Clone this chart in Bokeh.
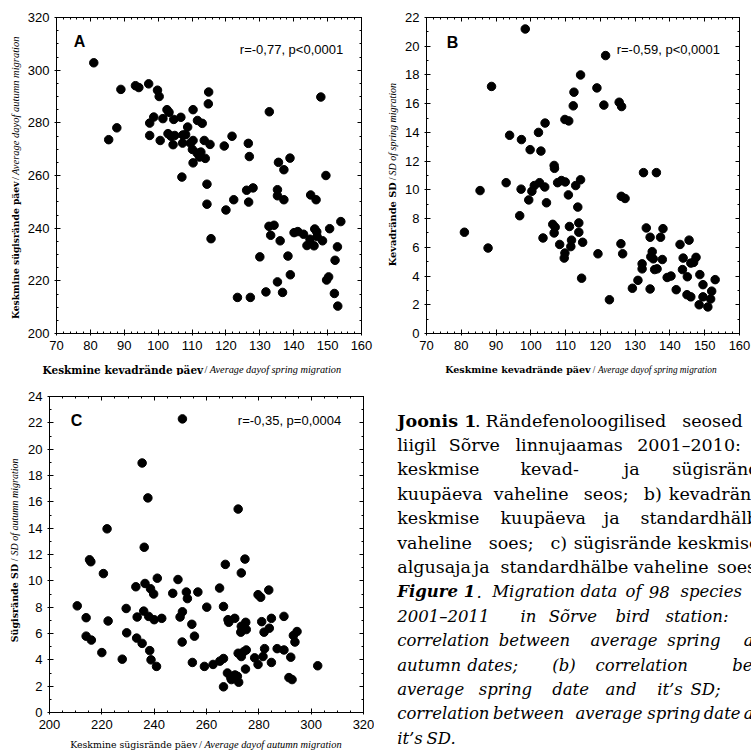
import math
from bokeh.plotting import figure
from bokeh.models import Range1d, LinearAxis, SingleIntervalTicker, Label, ColumnDataSource
from bokeh.layouts import row, column
from bokeh.embed import file_html
from bokeh.resources import INLINE
from bokeh.core.properties import value

# ---------------- data ----------------
# Panel A: average spring day vs average autumn day
spring_day_a = [81.0, 85.4, 87.8, 89.0, 93.3, 94.3, 97.2, 99.8, 100.3, 97.5, 98.7, 97.5, 100.6, 101.4,
                102.6, 103.2, 104.6, 102.9, 103.8, 104.9, 104.4, 106.7, 107.3, 108.1, 107.2, 108.7,
                110.3, 110.3, 109.5, 110.1, 110.3, 107.0, 111.6, 113.0, 113.6, 111.5, 112.6, 112.2,
                113.9, 114.9, 114.8, 115.3, 114.4, 114.4, 115.6, 119.5, 120.0, 121.8, 122.3, 123.4,
                126.6, 126.9, 126.1, 128.0, 126.7, 127.2, 130.0, 131.8, 132.8, 132.7, 133.2, 134.2,
                135.2, 135.5, 135.2, 135.2, 136.0, 136.7, 137.1, 137.1, 138.3, 138.9, 139.0, 140.1,
                141.2, 142.9, 143.9, 144.8, 145.0, 146.0, 146.2, 146.6, 146.8, 146.9, 148.0, 148.5,
                149.5, 149.7, 150.3, 150.6, 152.2, 152.0, 152.9, 153.0, 153.9]
autumn_day_a = [302.8, 273.6, 278.1, 292.7, 294.1, 293.4, 294.8, 292.4, 290.0, 279.9, 282.2, 275.2, 273.3, 281.6,
                285.0, 284.0, 281.3, 275.9, 274.9, 275.2, 271.7, 282.1, 275.4, 275.5, 272.3, 278.4,
                285.0, 273.3, 272.3, 269.9, 264.8, 259.4, 280.9, 279.8, 273.3, 268.5, 268.9, 267.0,
                266.5, 291.7, 287.2, 271.8, 256.7, 249.1, 236.0, 271.2, 246.9, 274.9, 250.8, 213.7,
                272.2, 267.2, 254.4, 255.3, 249.9, 213.7, 229.1, 215.8, 284.2, 240.7, 237.3, 241.1,
                219.6, 265.0, 254.6, 252.3, 235.2, 215.6, 262.2, 250.8, 229.4, 266.6, 222.3, 238.3,
                238.7, 237.7, 233.4, 235.8, 252.6, 233.3, 239.7, 250.8, 238.6, 236.8, 289.8, 235.2,
                260.0, 220.3, 221.5, 239.8, 227.8, 215.2, 232.9, 210.4, 242.5]

# Panel B: average spring day vs SD of spring migration
spring_day_b = [80.9, 85.4, 87.7, 88.7, 92.9, 93.9, 97.3, 98.4, 97.2, 96.8, 99.8, 99.4, 100.3, 101.0,
                102.2, 102.5, 102.9, 104.1, 104.0, 104.5, 103.5, 106.7, 106.8, 106.3, 107.0, 106.7,
                107.7, 108.8, 109.9, 108.3, 109.8, 110.9, 110.8, 109.8, 109.6, 111.1, 111.7, 111.5,
                112.2, 112.4, 112.9, 113.5, 113.8, 113.8, 114.3, 114.3, 114.9, 114.6, 119.0, 119.3,
                121.0, 121.5, 122.6, 125.4, 126.1, 126.0, 127.1, 125.9, 126.4, 129.2, 130.8, 132.0,
                132.0, 132.4, 133.2, 134.3, 134.3, 134.5, 134.9, 135.2, 135.6, 136.3, 136.1, 137.3,
                138.0, 137.8, 139.2, 140.3, 141.8, 142.9, 143.8, 143.6, 145.0, 145.5, 144.9, 146.0,
                146.0, 146.8, 147.5, 148.6, 148.4, 149.5, 149.5, 150.9, 151.7, 152.0, 153.0]
spring_sd_b = [7.05, 9.95, 5.95, 17.2, 10.5, 13.8, 13.5, 21.2, 10.05, 8.2, 12.8, 9.3, 9.9, 10.3,
               14.0, 10.5, 12.7, 14.65, 10.2, 9.1, 6.65, 11.7, 11.5, 7.6, 7.4, 7.0,
               10.5, 10.65, 10.55, 6.2, 14.9, 14.8, 9.65, 5.6, 5.25, 7.45, 6.5, 6.05,
               15.85, 16.8, 10.3, 8.8, 7.7, 7.05, 10.7, 18.0, 6.35, 3.85, 17.1, 5.55,
               15.9, 19.35, 2.35, 16.1, 15.8, 9.55, 9.4, 6.25, 5.55, 3.15, 3.7, 4.85,
               4.5, 11.2, 7.35, 6.7, 3.1, 5.35, 5.7, 5.2, 4.45, 4.5, 11.2, 6.7,
               7.3, 5.15, 3.9, 4.0, 3.05, 6.2, 5.25, 4.45, 3.95, 6.5, 2.7, 2.55,
               4.9, 4.95, 5.3, 4.1, 2.0, 3.4, 2.55, 1.85, 2.4, 2.95, 3.75]

# Panel C: average autumn day vs SD of autumn migration
autumn_day_c = [210.6, 214.0, 214.0, 215.3, 215.8, 216.0, 220.0, 220.6, 222.0, 222.4, 227.8, 229.3, 229.5,
                233.0, 233.3, 233.5, 235.4, 235.4, 236.2, 236.0, 236.5, 237.6, 237.9, 238.6, 238.3,
                238.8, 239.8, 240.0, 241.2, 240.9, 242.9, 247.1, 249.1, 249.9, 250.8, 250.8, 250.7,
                252.3, 252.7, 254.4, 254.6, 255.4, 256.7, 259.2, 260.1, 262.5, 265.0, 265.1, 266.5,
                266.5, 266.5, 267.2, 268.0, 268.2, 268.5, 269.3, 269.5, 270.8, 270.9, 271.8, 272.1,
                272.1, 272.3, 273.1, 273.3, 273.3, 273.3, 274.1, 274.7, 275.0, 275.2, 275.2, 274.9,
                278.4, 279.7, 279.7, 280.7, 281.1, 281.6, 282.0, 282.2, 283.8, 284.0, 284.8, 284.8,
                287.0, 289.6, 289.6, 291.5, 292.2, 292.7, 293.2, 293.8, 294.6, 302.5]
autumn_sd_c = [8.1, 7.2, 5.8, 11.6, 11.45, 5.5, 4.55, 10.55, 13.95, 6.95, 4.05, 7.9, 6.05,
               9.55, 5.65, 7.25, 5.25, 18.95, 12.55, 7.7, 9.8, 16.3, 7.3, 9.4, 4.7,
               4.0, 9.0, 7.05, 10.2, 3.5, 7.15, 9.05, 10.1, 7.25, 7.65, 22.3, 5.35,
               9.15, 8.65, 6.7, 3.8, 5.8, 9.15, 3.5, 8.0, 3.65, 9.45, 3.9, 4.1,
               8.05, 1.95, 11.25, 3.0, 7.05, 6.85, 2.65, 2.5, 7.15, 2.85, 2.75, 15.45,
               4.5, 2.3, 6.1, 10.6, 6.55, 4.25, 4.6, 11.65, 6.85, 6.3, 4.75, 3.3,
               4.15, 3.65, 8.95, 8.75, 6.9, 4.25, 6.1, 4.85, 9.3, 6.4, 7.15, 3.8,
               4.85, 7.3, 4.75, 2.65, 4.2, 2.5, 5.85, 5.35, 6.15, 3.55]

panel_letters = ["A", "B", "C"]
stats_texts = ["r=-0,77, p<0,0001", "r=-0,59, p<0,0001", "r=-0,35, p=0,0004"]

TICK_FONT = "Liberation Sans"
SERIF = "DejaVu Serif"
ITAL = "Liberation Serif"


def no_align(p):
    if "frame_align" in p.properties():
        p.frame_align = False


def make_panel(ox, oy, w, h, bl, br, bt, bb, xr, yr, xstep, xminor, ystep, yminor, tick_size="13px"):
    p = figure(width=w, height=h, x_range=Range1d(*xr), y_range=Range1d(*yr),
               output_backend="svg", toolbar_location=None,
               x_axis_type=None, y_axis_type=None,
               min_border_left=bl, min_border_right=br, min_border_top=bt, min_border_bottom=bb)
    no_align(p)
    p.outline_line_color = "black"
    p.outline_line_width = 1
    p.background_fill_color = "white"
    p.border_fill_color = "white"
    for loc in ("below", "left", "above", "right"):
        if loc in ("below", "above"):
            t = SingleIntervalTicker(interval=xstep, num_minor_ticks=xminor)
        else:
            t = SingleIntervalTicker(interval=ystep, num_minor_ticks=yminor)
        ax = LinearAxis(ticker=t)
        ax.axis_line_color = "black"
        ax.major_tick_line_color = "black"
        ax.minor_tick_line_color = "black"
        ax.major_tick_in = 4
        ax.minor_tick_in = 2
        ax.minor_tick_out = 0
        if loc in ("below", "left"):
            ax.major_tick_out = 2
            ax.major_label_standoff = 5
            ax.major_label_text_font = TICK_FONT
            ax.major_label_text_font_size = tick_size
            ax.major_label_text_color = "black"
        else:
            ax.major_tick_out = 0
            ax.major_label_standoff = 0
            ax.major_label_text_font_size = "0px"
            ax.major_label_text_color = None
        p.add_layout(ax, loc)
    fh = h - bt - bb
    frame = dict(left=ox + bl, bottom=oy + bt + fh)
    return p, frame


def add_label(p, frame, sx, sy, text, **kw):
    p.add_layout(Label(x=sx - frame["left"], y=frame["bottom"] - sy,
                       x_units="screen", y_units="screen", text=text, **kw))


def add_corner_texts(p, frame, letter, lxy, stat, sxy):
    add_label(p, frame, lxy[0], lxy[1], letter, text_font=TICK_FONT, text_font_style="bold",
              text_font_size="16px", text_align="center", text_baseline="middle", text_color="black")
    add_label(p, frame, sxy[0], sxy[1], stat, text_font=TICK_FONT, text_font_size="13px",
              text_align="right", text_baseline="middle", text_color="black")


def strip(x0, x1, y0, y1):
    s = figure(width=int(round(x1 - x0)), height=int(round(y1 - y0)),
               x_range=Range1d(x0, x1), y_range=Range1d(y1, y0),
               output_backend="svg", toolbar_location=None, x_axis_type=None, y_axis_type=None,
               min_border=0, min_border_left=0, min_border_right=0, min_border_top=0,
               min_border_bottom=0)
    no_align(s)
    s.outline_line_color = None
    s.background_fill_color = "white"
    s.border_fill_color = "white"
    return s


def put(s, x, y, txt, font, style, size, align, angle=0.0):
    s.text(x=[x], y=[y], text=[txt], text_font=value(font), text_font_style=value(style),
           text_font_size=value(size), text_align=value(align), text_baseline=value("middle"),
           angle=angle, text_color="black")


def x_title(s, y, first, first_style, first_size, end1, slash_x, ital_x, rest, ital_size):
    put(s, end1, y, first, SERIF, first_style, first_size, "right")
    put(s, slash_x, y, "/", ITAL, "normal", ital_size, "center")
    put(s, ital_x, y, rest, ITAL, "italic", ital_size, "left")


def y_title(s, x, first, first_size, end1, slash_y, ital_y, rest, ital_size):
    a = math.pi / 2
    put(s, x, end1, first, SERIF, "bold", first_size, "right", a)
    put(s, x, slash_y, "/", ITAL, "normal", ital_size, "center", a)
    put(s, x, ital_y, rest, ITAL, "italic", ital_size, "left", a)


MS = 8.5

# ---- Panel A (page x 0..374, y 0..375) ----
yA = strip(0, 22, 0, 355)
y_title(yA, 15, "Keskmine sügisrände päev", "9.2px", 181, 178, 174.5,
        "Average dayof autumn migration", "10.5px")
pA, fA = make_panel(22, 0, 352, 355, 34, 13, 17, 22, (70, 160), (200, 320), 10, 5, 20, 4)
pA.scatter(spring_day_a, autumn_day_a, size=MS, color="black")
add_corner_texts(pA, fA, panel_letters[0], (79, 41), stats_texts[0], (342.7, 49))
xA = strip(0, 374, 355, 375)
x_title(xA, 369.3, "Keskmine kevadrände päev", "bold", "10.5px", 202.7, 205.5, 209.3,
        "Average dayof spring migration", "10.3px")

# ---- Panel B (page x 374..751, y 0..375) ----
yB = strip(374, 400, 0, 355)
y_title(yB, 391.7, "Kevadrände SD", "9.8px", 181.7, 178.3, 175,
        "SD of spring migration", "10px")
pB, fB = make_panel(400, 0, 351, 355, 26, 12, 17, 22, (70, 160), (0, 22), 10, 5, 2, 2)
pB.scatter(spring_day_b, spring_sd_b, size=MS, color="black")
add_corner_texts(pB, fB, panel_letters[1], (452, 41.5), stats_texts[1], (719.5, 49))
xB = strip(374, 751, 355, 375)
x_title(xB, 369.3, "Keskmine kevadrände päev", "bold", "9.5px", 590, 593.5, 597.5,
        "Average dayof spring migration", "9.3px")

# ---- Panel C (page x 0..374, y 375..754) ----
yC = strip(0, 22, 375, 736)
y_title(yC, 14, "Sügisrände SD", "9.5px", 563.3, 559.3, 555,
        "SD of autumn migration", "10px")
pC, fC = make_panel(22, 375, 352, 361, 27, 11, 21, 24, (200, 320), (0, 24), 20, 4, 2, 2)
pC.scatter(autumn_day_c, autumn_sd_c, size=MS, color="black")
add_corner_texts(pC, fC, panel_letters[2], (76, 419.7), stats_texts[2], (340.7, 420))
xC = strip(0, 374, 736, 754)
x_title(xC, 744.3, "Keskmine sügisrände päev", "normal", "9.4px", 196.7, 200, 204,
        "Average dayof autumn migration", "10.4px")

# ---- Caption (page x 374..751, y 375..754) ----
caption_lines = [
    [("Joonis 1", "bold", 396.7), (".", "normal", 474.5), ("Rändefenoloogilised", "normal", 485),
     ("seosed", "normal", 681.7)],
    [("liigil", "normal", 396.7), ("Sõrve", "normal", 448.3), ("linnujaamas", "normal", 515),
     ("2001–2010:", "normal", 636.7)],
    [("keskmise", "normal", 396.7), ("kevad-", "normal", 520), ("ja", "normal", 623.3),
     ("sügisrände", "normal", 671.7)],
    [("kuupäeva", "normal", 396.7), ("vaheline", "normal", 493.3), ("seos;", "normal", 583.3),
     ("b)", "normal", 643.3), ("kevadrände", "normal", 668.3)],
    [("keskmise", "normal", 396.7), ("kuupäeva", "normal", 500), ("ja", "normal", 603.3),
     ("standardhälbe", "normal", 640)],
    [("vaheline", "normal", 396.7), ("soes;", "normal", 488.3), ("c)", "normal", 550),
     ("sügisrände", "normal", 573.3), ("keskmise", "normal", 676.7)],
    [("algusaja", "normal", 396.7), ("ja", "normal", 473.3), ("standardhälbe", "normal", 500),
     ("vaheline", "normal", 633.3), ("soes.", "normal", 716.7)],
    [("Figure 1", "bold italic", 396.7), (".", "italic", 476), ("Migration", "italic", 491.7),
     ("data", "italic", 580), ("of", "italic", 625), ("98", "italic", 648.3), ("species", "italic", 680)],
    [("2001–2011", "italic", 396.7), ("in", "italic", 520), ("Sõrve", "italic", 548.3),
     ("bird", "italic", 615), ("station:", "italic", 665)],
    [("correlation", "italic", 396.7), ("between", "italic", 498.3), ("average", "italic", 590),
     ("spring", "italic", 666.7), ("and", "italic", 743.3)],
    [("autumn", "italic", 396.7), ("dates;", "italic", 466.7), ("(b)", "italic", 551.7),
     ("correlation", "italic", 595), ("between", "italic", 731.7)],
    [("average", "italic", 396.7), ("spring", "italic", 478.3), ("date", "italic", 551.7),
     ("and", "italic", 605), ("it’s", "italic", 656.7), ("SD;", "italic", 690)],
    [("correlation", "italic", 396.7), ("between", "italic", 492.5), ("average", "italic", 575),
     ("spring", "italic", 646.7), ("date", "italic", 703.3), ("and", "italic", 743.3)],
    [("it’s", "italic", 396.7), ("SD.", "italic", 426)],
]
CAP_Y0 = 420.0
CAP_DY = 24.45
CAP_SIZE = {"normal": "17.5px", "bold": "17.5px", "italic": "16.5px", "bold italic": "16.5px"}

pCap = strip(374, 751, 375, 754)
by_style = {}
for i, line in enumerate(caption_lines):
    for word, style, x in line:
        d = by_style.setdefault(style, {"x": [], "y": [], "t": []})
        d["x"].append(x)
        d["y"].append(CAP_Y0 + i * CAP_DY)
        d["t"].append(word)
for style, d in by_style.items():
    src = ColumnDataSource(d)
    pCap.text(x="x", y="y", text="t", source=src, text_font=value(SERIF),
              text_font_style=value(style), text_font_size=value(CAP_SIZE[style]),
              text_align="left", text_baseline="middle", text_color="black")

left_col = column(row(yA, pA), xA, row(yC, pC), xC)
right_col = column(row(yB, pB), xB, pCap)
layout = row(left_col, right_col)

with open("out.html", "w") as f:
    f.write(file_html(layout, INLINE))
